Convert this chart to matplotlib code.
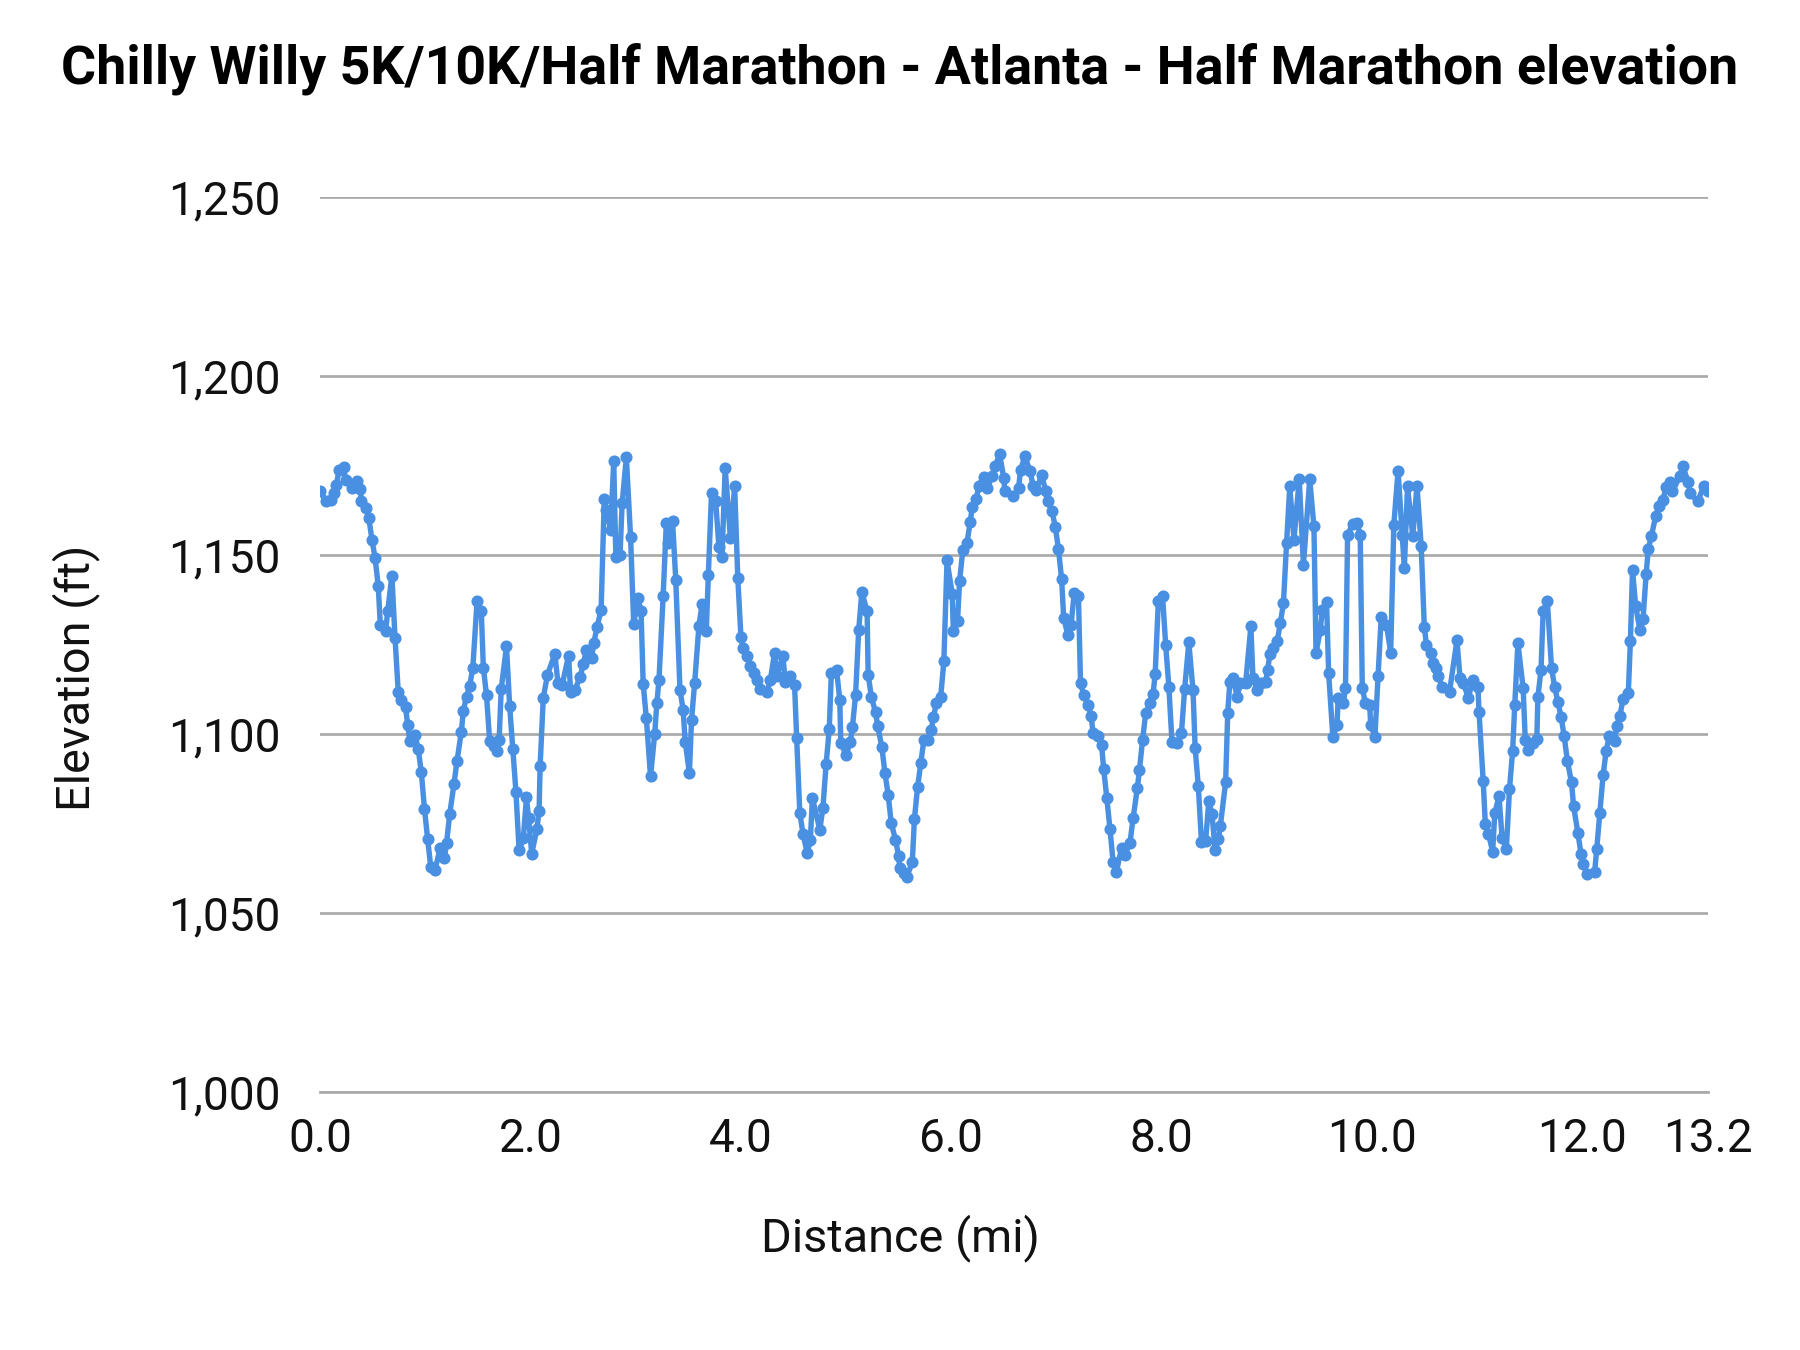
import matplotlib
matplotlib.use("Agg")
import matplotlib.pyplot as plt
from matplotlib.ticker import FuncFormatter

plt.rcParams['font.family'] = ['Roboto', 'DejaVu Sans']

# distance (mi) and elevation (ft)
dist = [0.00, 0.05, 0.10, 0.13, 0.15, 0.18, 0.22, 0.24, 0.30, 0.35, 0.38, 0.39, 0.43, 0.46, 0.49, 0.52,
        0.55, 0.57, 0.62, 0.64, 0.68, 0.71, 0.74, 0.77, 0.81, 0.83, 0.85, 0.90, 0.93, 0.96, 0.99, 1.02,
        1.05, 1.09, 1.14, 1.18, 1.20, 1.23, 1.27, 1.30, 1.34, 1.36, 1.39, 1.42, 1.45, 1.49, 1.53, 1.55,
        1.58, 1.61, 1.65, 1.68, 1.70, 1.72, 1.77, 1.80, 1.83, 1.86, 1.89, 1.93, 1.96, 1.98, 2.01, 2.06,
        2.08, 2.09, 2.12, 2.16, 2.23, 2.26, 2.30, 2.36, 2.38, 2.42, 2.47, 2.50, 2.53, 2.58, 2.60, 2.63,
        2.67, 2.70, 2.72, 2.76, 2.79, 2.81, 2.85, 2.87, 2.91, 2.95, 2.98, 3.02, 3.05, 3.07, 3.10, 3.14,
        3.18, 3.20, 3.22, 3.26, 3.29, 3.31, 3.35, 3.38, 3.42, 3.45, 3.47, 3.51, 3.53, 3.56, 3.60, 3.63,
        3.67, 3.69, 3.72, 3.76, 3.79, 3.82, 3.85, 3.90, 3.94, 3.97, 4.00, 4.02, 4.06, 4.09, 4.12, 4.15,
        4.18, 4.25, 4.28, 4.32, 4.34, 4.40, 4.42, 4.47, 4.51, 4.53, 4.56, 4.59, 4.63, 4.66, 4.68, 4.75,
        4.78, 4.81, 4.84, 4.86, 4.91, 4.94, 4.95, 5.00, 5.04, 5.06, 5.09, 5.12, 5.15, 5.20, 5.21, 5.24,
        5.28, 5.30, 5.34, 5.37, 5.40, 5.43, 5.47, 5.50, 5.51, 5.55, 5.58, 5.63, 5.65, 5.68, 5.71, 5.74,
        5.78, 5.81, 5.83, 5.86, 5.90, 5.93, 5.96, 6.01, 6.02, 6.06, 6.08, 6.11, 6.15, 6.18, 6.20, 6.24,
        6.26, 6.31, 6.34, 6.39, 6.42, 6.46, 6.50, 6.51, 6.59, 6.64, 6.66, 6.70, 6.75, 6.78, 6.81, 6.86,
        6.90, 6.92, 6.96, 6.99, 7.02, 7.05, 7.07, 7.11, 7.14, 7.17, 7.21, 7.23, 7.26, 7.30, 7.33, 7.35,
        7.40, 7.43, 7.45, 7.48, 7.51, 7.54, 7.57, 7.62, 7.65, 7.70, 7.73, 7.77, 7.79, 7.82, 7.85, 7.89,
        7.92, 7.94, 7.97, 8.01, 8.04, 8.07, 8.10, 8.15, 8.19, 8.22, 8.26, 8.30, 8.32, 8.35, 8.38, 8.42,
        8.45, 8.48, 8.51, 8.54, 8.56, 8.61, 8.63, 8.65, 8.68, 8.72, 8.75, 8.80, 8.85, 8.87, 8.91, 8.95,
        8.99, 9.01, 9.03, 9.06, 9.10, 9.13, 9.16, 9.19, 9.22, 9.26, 9.31, 9.35, 9.41, 9.45, 9.47, 9.51,
        9.53, 9.57, 9.59, 9.63, 9.67, 9.68, 9.73, 9.75, 9.77, 9.82, 9.86, 9.89, 9.91, 9.94, 9.98, 9.99,
        10.03, 10.06, 10.09, 10.14, 10.18, 10.21, 10.25, 10.29, 10.31, 10.34, 10.39, 10.43, 10.47, 10.50,
        10.52, 10.56, 10.58, 10.61, 10.63, 10.67, 10.74, 10.81, 10.84, 10.87, 10.92, 10.96, 11.01, 11.02,
        11.06, 11.08, 11.11, 11.15, 11.17, 11.21, 11.24, 11.28, 11.31, 11.34, 11.36, 11.39, 11.44, 11.46,
        11.49, 11.53, 11.57, 11.58, 11.61, 11.63, 11.67, 11.71, 11.74, 11.77, 11.80, 11.83, 11.86, 11.90,
        11.92, 11.96, 11.99, 12.01, 12.05, 12.12, 12.14, 12.17, 12.20, 12.23, 12.26, 12.31, 12.33, 12.36,
        12.39, 12.44, 12.46, 12.48, 12.51, 12.55, 12.58, 12.61, 12.63, 12.66, 12.70, 12.73, 12.77, 12.80,
        12.84, 12.86, 12.93, 12.96, 13.01, 13.03, 13.10, 13.16, 13.20]
elev = [1168.0, 1165.0, 1165.5, 1167.3, 1169.6, 1173.8, 1174.5, 1171.0, 1168.7, 1170.6, 1168.4, 1165.0,
        1163.1, 1160.5, 1154.3, 1149.3, 1141.4, 1130.5, 1128.7, 1134.3, 1144.3, 1126.8, 1111.9, 1109.6,
        1107.5, 1102.6, 1098.2, 1099.8, 1095.9, 1089.3, 1079.1, 1070.7, 1062.8, 1062.1, 1068.2, 1065.5,
        1069.6, 1077.7, 1086.0, 1092.6, 1100.6, 1106.6, 1110.5, 1113.5, 1118.6, 1137.1, 1134.5, 1118.6,
        1110.8, 1098.0, 1096.6, 1095.2, 1098.4, 1112.7, 1124.5, 1107.9, 1095.9, 1083.8, 1067.5, 1070.9,
        1082.3, 1076.5, 1066.6, 1073.6, 1078.6, 1091.2, 1110.2, 1116.6, 1122.4, 1114.2, 1113.8, 1121.9,
        1111.9, 1112.4, 1115.9, 1119.6, 1123.6, 1121.4, 1125.4, 1129.8, 1134.7, 1165.6, 1162.7, 1157.1,
        1176.2, 1149.6, 1150.1, 1164.5, 1177.4, 1155.2, 1130.7, 1138.0, 1134.3, 1114.1, 1104.5, 1088.2,
        1100.1, 1108.7, 1115.0, 1138.5, 1158.9, 1153.4, 1159.4, 1143.1, 1112.4, 1106.8, 1097.8, 1089.1,
        1104.0, 1114.4, 1130.1, 1136.4, 1128.7, 1144.5, 1167.3, 1165.0, 1152.4, 1149.6, 1174.3, 1154.7,
        1169.2, 1143.6, 1127.1, 1124.0, 1121.7, 1118.9, 1117.0, 1115.2, 1112.6, 1111.9, 1115.2, 1122.8,
        1116.1, 1121.9, 1114.7, 1116.1, 1113.8, 1098.9, 1077.9, 1072.2, 1066.8, 1070.5, 1082.1, 1073.3,
        1079.5, 1091.6, 1101.4, 1117.2, 1117.8, 1109.6, 1097.5, 1094.2, 1097.8, 1101.9, 1110.8, 1129.1,
        1139.7, 1134.3, 1116.6, 1110.5, 1106.1, 1102.4, 1096.4, 1089.1, 1083.1, 1075.1, 1070.5, 1066.0,
        1062.6, 1061.2, 1060.2, 1064.4, 1076.3, 1085.2, 1091.9, 1098.4, 1098.4, 1101.2, 1104.7, 1108.7,
        1110.5, 1120.3, 1148.5, 1139.1, 1128.7, 1131.5, 1142.9, 1151.3, 1153.4, 1159.2, 1163.4, 1165.7,
        1169.4, 1171.8, 1168.7, 1172.0, 1174.8, 1178.3, 1171.5, 1167.8, 1166.4, 1168.7, 1173.8, 1177.6,
        1173.4, 1169.2, 1168.2, 1172.4, 1167.8, 1165.0, 1162.2, 1157.8, 1151.7, 1143.3, 1132.4, 1127.7,
        1130.5, 1139.4, 1138.5, 1114.2, 1111.0, 1108.2, 1105.1, 1100.3, 1099.6, 1097.0, 1090.3, 1082.1,
        1073.5, 1064.2, 1061.4, 1068.2, 1066.3, 1069.6, 1076.5, 1084.9, 1089.9, 1098.4, 1105.9, 1108.7,
        1111.2, 1116.9, 1137.1, 1138.6, 1124.8, 1113.3, 1097.7, 1097.5, 1100.3, 1112.6, 1125.6, 1112.2,
        1096.1, 1085.6, 1070.0, 1070.2, 1081.4, 1077.7, 1067.7, 1070.7, 1074.4, 1086.6, 1105.9, 1114.5,
        1115.6, 1110.5, 1114.2, 1114.2, 1130.1, 1115.6, 1112.4, 1114.2, 1114.7, 1117.8, 1122.4, 1124.0,
        1125.9, 1131.0, 1136.6, 1153.5, 1169.2, 1154.3, 1171.2, 1147.3, 1171.2, 1158.0, 1122.6, 1129.1,
        1134.7, 1136.8, 1117.0, 1099.2, 1102.6, 1110.1, 1108.7, 1112.8, 1155.7, 1158.7, 1158.9, 1155.7,
        1112.8, 1108.7, 1108.2, 1102.6, 1099.2, 1116.3, 1132.7, 1130.5, 1122.8, 1158.5, 1173.6, 1155.7,
        1146.4, 1169.2, 1155.4, 1169.4, 1152.6, 1129.8, 1125.0, 1122.8, 1120.0, 1118.4, 1116.3, 1113.3,
        1111.9, 1126.2, 1115.6, 1114.2, 1110.1, 1115.2, 1113.1, 1106.3, 1086.8, 1074.9, 1072.1, 1067.2,
        1077.9, 1082.6, 1071.0, 1067.9, 1084.7, 1095.4, 1108.2, 1125.4, 1112.8, 1098.4, 1095.6, 1097.5,
        1098.6, 1110.3, 1118.0, 1134.3, 1137.1, 1118.4, 1113.1, 1109.1, 1104.9, 1099.5, 1092.6, 1086.5,
        1079.8, 1072.5, 1066.6, 1063.8, 1060.9, 1061.5, 1068.0, 1078.1, 1088.5, 1095.4, 1099.5, 1098.0,
        1102.3, 1105.1, 1109.8, 1111.5, 1125.9, 1145.9, 1135.8, 1129.1, 1132.1, 1144.8, 1151.7, 1155.4,
        1160.8, 1163.6, 1165.5, 1169.0, 1170.3, 1167.8, 1172.0, 1174.8, 1170.3, 1167.3, 1165.0, 1169.4,
        1167.8]

xticks = [0.0, 2.0, 4.0, 6.0, 8.0, 10.0, 12.0, 13.2]
yticks = [1000, 1050, 1100, 1150, 1200, 1250]

fig = plt.figure(figsize=(12, 9), dpi=150)
ax = fig.add_axes([0.178, 0.191, 0.771, 0.663])

ax.plot(dist, elev, color='#4a90e2', linewidth=2.6, marker='o', markersize=4.8, zorder=3)

ax.set_xlim(0, 13.2)
ax.set_ylim(1000, 1250)
ax.set_xticks(xticks)
ax.set_yticks(yticks)
ax.xaxis.set_major_formatter(FuncFormatter(lambda v, p: '%.1f' % v))
ax.yaxis.set_major_formatter(FuncFormatter(lambda v, p: '{:,.0f}'.format(v)))
ax.tick_params(axis='both', length=0, labelsize=22, colors='#111111')
ax.tick_params(axis='y', pad=19)
ax.tick_params(axis='x', pad=12)

ax.grid(axis='y', color='#aaaaaa', linewidth=1.3)
ax.set_axisbelow(True)
for s in ['top', 'right', 'left']:
    ax.spines[s].set_visible(False)
ax.spines['bottom'].set_color('#aaaaaa')
ax.spines['bottom'].set_linewidth(1.3)

fig.text(0.5, 0.949, 'Chilly Willy 5K/10K/Half Marathon - Atlanta - Half Marathon elevation',
         ha='center', va='center', fontsize=25.8, fontweight='bold', color='#000000')
fig.text(0.5, 0.083, 'Distance (mi)', ha='center', va='center', fontsize=22.5, color='#111111')
fig.text(0.042, 0.498, 'Elevation (ft)', ha='center', va='center', rotation=90,
         fontsize=22.5, color='#111111')

fig.savefig('out.png', dpi=150)
